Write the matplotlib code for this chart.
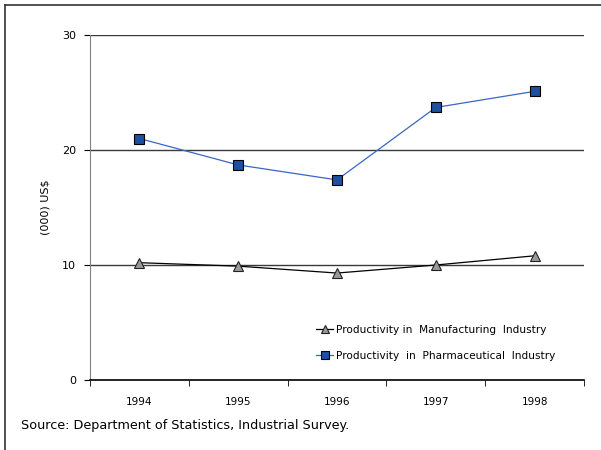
import matplotlib.pyplot as plt
from matplotlib.lines import Line2D

# Dados
anos = ['1994', '1995', '1996', '1997', '1998']
manufatura = [10.2, 9.9, 9.3, 10.0, 10.8]
farmaceutica = [21.0, 18.7, 17.4, 23.7, 25.1]
y_ticks = [0, 10, 20, 30]

def gerar_grafico():
    fig = plt.figure(figsize=(6.01, 4.5), dpi=100)
    ax = fig.add_axes([90 / 601, 70 / 450, 494 / 601, 345 / 450])

    x = list(range(len(anos)))

    # Linhas de grade horizontais
    for v in y_ticks[1:]:
        ax.axhline(v, color='#3a3a3a', linewidth=1.0, zorder=1)

    ax.plot(x, manufatura, color='black', linewidth=0.9, marker='^',
            markersize=7, markerfacecolor='#999999', markeredgecolor='#222222',
            markeredgewidth=0.8, zorder=3, label='Productivity in  Manufacturing  Industry')
    ax.plot(x, farmaceutica, color='#3a66c4', linewidth=0.9, marker='s',
            markersize=7, markerfacecolor='#1f4fa0', markeredgecolor='black',
            markeredgewidth=0.8, zorder=3, label='Productivity  in  Pharmaceutical  Industry')

    ax.set_xlim(-0.5, len(anos) - 0.5)
    ax.set_ylim(0, 30)
    ax.set_yticks(y_ticks)
    ax.set_yticklabels([str(v) for v in y_ticks], fontsize=8)
    ax.set_xticks(x)
    ax.set_xticklabels(anos, fontsize=7.5)
    ax.set_xticks([i - 0.5 for i in range(len(anos) + 1)], minor=True)
    ax.tick_params(axis='x', which='major', length=0, pad=12)
    ax.tick_params(axis='x', which='minor', length=4, direction='out', color='black')
    ax.tick_params(axis='y', length=4, direction='out', color='black', pad=6)

    ax.spines['top'].set_visible(False)
    ax.spines['right'].set_visible(False)
    ax.spines['left'].set_color('#808080')
    ax.spines['bottom'].set_color('black')
    ax.spines['bottom'].set_linewidth(1.2)

    ax.set_ylabel('(000) US$', fontsize=8, labelpad=8)

    ax.legend(loc='upper left', bbox_to_anchor=(0.458, 0.16), frameon=False,
              fontsize=7.6, handlelength=1.6, handletextpad=0.3, labelspacing=1.5,
              borderpad=0, borderaxespad=0, markerscale=0.8)

    # Moldura da figura e fonte
    fig.add_artist(Line2D([5 / 601, 5 / 601], [0, 445 / 450], color='#333333', linewidth=1.2))
    fig.add_artist(Line2D([5 / 601, 1], [445 / 450, 445 / 450], color='#333333', linewidth=1.2))
    fig.text(21 / 601, 1 - 426 / 450, 'Source: Department of Statistics, Industrial Survey.',
             fontsize=9.2, va='center', ha='left')

    fig.savefig('out.png', dpi=100)

if __name__ == "__main__":
    gerar_grafico()
